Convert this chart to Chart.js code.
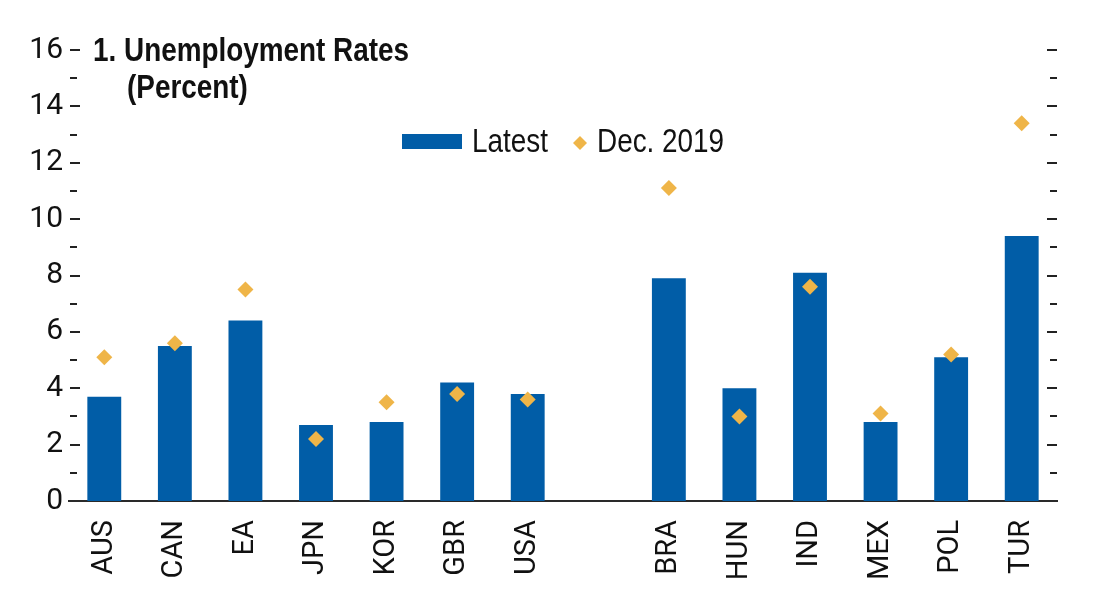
<!DOCTYPE html>
<html>
<head>
<meta charset="utf-8">
<script src="https://cdn.jsdelivr.net/npm/chart.js@4/dist/chart.umd.min.js"></script>
<style>
  body { margin: 0; background: #fff; }
  #wrap { width: 1113px; height: 598px; }
</style>
</head>
<body>
<div id="wrap"><canvas id="myChart"></canvas></div>
<script>
const categories = ["AUS", "CAN", "EA", "JPN", "KOR", "GBR", "USA", "", "BRA", "HUN", "IND", "MEX", "POL", "TUR"];
const latest = [3.7, 5.5, 6.4, 2.7, 2.8, 4.2, 3.8, null, 7.9, 4.0, 8.1, 2.8, 5.1, 9.4];
const dec2019 = [5.1, 5.6, 7.5, 2.2, 3.5, 3.8, 3.6, null, 11.1, 3.0, 7.6, 3.1, 5.2, 13.4];
const yMin = 0, yMax = 16, yStep = 2;
const titleLines = ["1. Unemployment Rates", "(Percent)"];

const BLUE = "#015DA7";
const GOLD = "#EFB548";
const INK = "#111";
const SANS = '"Liberation Sans", Arial, sans-serif';
const TICKFONT = 'Roboto, "Liberation Sans", sans-serif';

// no condensed face installed, so squeeze Liberation Sans to Arial Narrow width
function narrowText(ctx, text, x, y, squeeze) {
  ctx.save();
  ctx.translate(x, y);
  ctx.scale(squeeze, 1);
  ctx.fillText(text, 0, 0);
  ctx.restore();
}

// tick marks on both sides, pointing inwards, shorter for odd values
const sideTicks = {
  id: "sideTicks",
  afterDraw(chart) {
    const { ctx, chartArea: a, scales: { y } } = chart;
    ctx.save();
    ctx.strokeStyle = "#222";
    ctx.lineWidth = 2;
    for (let v = yMin + 1; v <= yMax; v++) {
      const py = Math.round(y.getPixelForValue(v));
      const len = v % yStep === 0 ? 10 : 7;
      ctx.beginPath();
      ctx.moveTo(a.left + 1, py); ctx.lineTo(a.left + 1 + len, py);
      ctx.moveTo(a.right - len, py); ctx.lineTo(a.right, py);
      ctx.stroke();
    }
    ctx.restore();
  }
};

// panel title and legend drawn inside the plot
const titleLegend = {
  id: "titleLegend",
  afterDraw(chart) {
    const ctx = chart.ctx;
    const ds = chart.data.datasets;
    ctx.save();
    ctx.fillStyle = INK;
    ctx.textBaseline = "alphabetic";
    ctx.font = "bold 34px " + SANS;
    narrowText(ctx, titleLines[0], 93, 61, 0.82);
    narrowText(ctx, titleLines[1], 127, 98, 0.82);

    ctx.font = "34px " + SANS;
    ctx.textBaseline = "middle";
    ctx.fillStyle = ds[0].backgroundColor;
    ctx.fillRect(402, 134, 60, 15);
    ctx.fillStyle = INK;
    narrowText(ctx, ds[0].label, 472, 143, 0.82);
    ctx.fillStyle = ds[1].backgroundColor;
    ctx.beginPath();
    ctx.moveTo(580, 136); ctx.lineTo(587, 143); ctx.lineTo(580, 150); ctx.lineTo(573, 143);
    ctx.closePath(); ctx.fill();
    ctx.fillStyle = INK;
    narrowText(ctx, ds[1].label, 597, 143, 0.82);
    ctx.restore();
  }
};

const ctx = document.getElementById("myChart").getContext("2d");
const myChart = new Chart(ctx, {
  data: {
    labels: categories,
    datasets: [
      {
        type: "bar",
        label: "Latest",
        data: latest,
        backgroundColor: BLUE,
        barPercentage: 0.48,
        categoryPercentage: 1,
        order: 2
      },
      {
        type: "line",
        label: "Dec. 2019",
        data: dec2019,
        showLine: false,
        backgroundColor: GOLD,
        borderColor: GOLD,
        pointStyle: "rectRot",
        pointRadius: 8,
        pointBorderWidth: 0,
        order: 1
      }
    ]
  },
  options: {
    responsive: true,
    maintainAspectRatio: false,
    animation: false,
    layout: { padding: { top: 50, right: 56, left: 0, bottom: 0 } },
    plugins: {
      legend: { display: false },
      tooltip: { enabled: false }
    },
    scales: {
      x: {
        grid: { display: false, drawTicks: false },
        border: { display: true, color: "#2a2a2a", width: 2 },
        ticks: {
          autoSkip: false,
          maxRotation: 90,
          minRotation: 90,
          padding: 19,
          color: INK,
          font: { family: TICKFONT, size: 29 }
        },
        afterFit(scale) { scale.height = 97; }
      },
      y: {
        min: yMin,
        max: yMax,
        grid: { display: false, drawTicks: false },
        border: { display: false },
        ticks: {
          stepSize: yStep,
          padding: 6,
          color: INK,
          font: { family: TICKFONT, size: 30 }
        },
        afterFit(scale) { scale.width = 69; }
      }
    }
  },
  plugins: [sideTicks, titleLegend]
});
</script>
</body>
</html>
